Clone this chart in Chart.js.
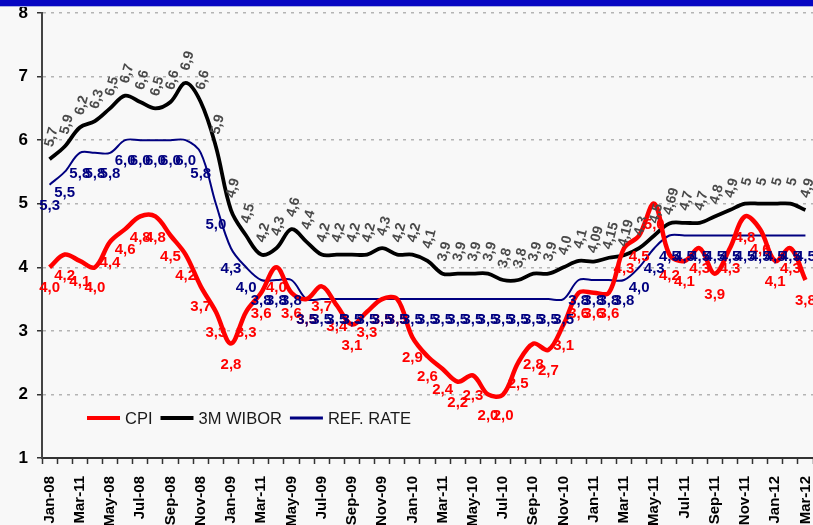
<!DOCTYPE html>
<html>
<head>
<meta charset="utf-8">
<script src="https://cdn.jsdelivr.net/npm/chart.js@4.4.1/dist/chart.umd.min.js"></script>
<style>
  html, body { margin: 0; padding: 0; background: #f8f8f8; }
  #wrap { position: relative; width: 813px; height: 525px; overflow: hidden; background: #f8f8f8; }
  #topbar { position: absolute; left: 0; top: 0; width: 813px; height: 6px; background: #0606c2; border-bottom: 1px solid #aab0e4; z-index: 2; }
  canvas { position: absolute; left: 0; top: 0; }
</style>
</head>
<body>
<div id="wrap">
  <div id="topbar"></div>
  <canvas id="chart" width="813" height="525"></canvas>
</div>
<script>
// Monthly categories, Jan-08 .. Mar-12 (every other one is printed on the axis)
const months = [
  'Jan-08','Feb-08','Mar-11','Apr-08','May-08','Jun-08','Jul-08','Aug-08','Sep-08','Oct-08','Nov-08','Dec-08',
  'Jan-09','Feb-09','Mar-11','Apr-09','May-09','Jun-09','Jul-09','Aug-09','Sep-09','Oct-09','Nov-09','Dec-09',
  'Jan-10','Feb-10','Mar-11','Apr-10','May-10','Jun-10','Jul-10','Aug-10','Sep-10','Oct-10','Nov-10','Dec-10',
  'Jan-11','Feb-11','Mar-11','Apr-11','May-11','Jun-11','Jul-11','Aug-11','Sep-11','Oct-11','Nov-11','Dec-11',
  'Jan-12','Feb-12','Mar-12'
];

// CPI, y/y %
const cpi = [
  4.0, 4.2, 4.1, 4.0, 4.4, 4.6, 4.8, 4.8, 4.5, 4.2, 3.7, 3.3,
  2.8, 3.3, 3.6, 4.0, 3.6, 3.5, 3.7, 3.4, 3.1, 3.3, 3.5, 3.5,
  2.9, 2.6, 2.4, 2.2, 2.3, 2.0, 2.0, 2.5, 2.8, 2.7, 3.1, 3.6,
  3.6, 3.6, 4.3, 4.5, 5.0, 4.2, 4.1, 4.3, 3.9, 4.3, 4.8, 4.6,
  4.1, 4.3, 3.8
];

// 3M WIBOR, %
const wibor = [
  5.7, 5.9, 6.2, 6.3, 6.5, 6.7, 6.6, 6.5, 6.6, 6.9, 6.6, 5.9,
  4.9, 4.5, 4.2, 4.3, 4.6, 4.4, 4.2, 4.2, 4.2, 4.2, 4.3, 4.2,
  4.2, 4.1, 3.9, 3.9, 3.9, 3.9, 3.8, 3.8, 3.9, 3.9, 4.0, 4.1,
  4.09, 4.15, 4.19, 4.3, 4.5, 4.69, 4.7, 4.7, 4.8, 4.9, 5, 5,
  5, 5, 4.9
];

// NBP reference rate, %
const refRate = [
  5.3, 5.5, 5.8, 5.8, 5.8, 6.0, 6.0, 6.0, 6.0, 6.0, 5.8, 5.0,
  4.3, 4.0, 3.8, 3.8, 3.8, 3.5, 3.5, 3.5, 3.5, 3.5, 3.5, 3.5,
  3.5, 3.5, 3.5, 3.5, 3.5, 3.5, 3.5, 3.5, 3.5, 3.5, 3.5, 3.8,
  3.8, 3.8, 3.8, 4.0, 4.3, 4.5, 4.5, 4.5, 4.5, 4.5, 4.5, 4.5,
  4.5, 4.5, 4.5
];

const seriesNames = ['CPI', '3M WIBOR', 'REF. RATE'];
const yMin = 1, yMax = 8;

const FONT = '"Liberation Sans", Arial, sans-serif';

const oneDecimal = v => v.toFixed(1).replace('.', ',');
const asEntered = v => {
  const tenths = Math.abs(v * 10 - Math.round(v * 10)) < 1e-9;
  const s = (Number.isInteger(v) && v >= 5) ? String(v) : (tenths ? v.toFixed(1) : String(v));
  return s.replace('.', ',');
};

// Value labels for each series: offset from the point, rotation, font, colour
const labelStyles = {
  0: { dx: 0, dy: 21, rot: 0, font: 'bold 15px ' + FONT, color: '#ff0000', fmt: oneDecimal },
  1: { dx: 2, dy: -22, rot: -75 * Math.PI / 180, font: 'bold 14px ' + FONT, color: '#4a4a4a', fmt: asEntered },
  2: { dx: 0, dy: 21, rot: 0, font: 'bold 15px ' + FONT, color: '#000080', fmt: oneDecimal }
};

const valueLabels = {
  id: 'valueLabels',
  afterDatasetsDraw(chart) {
    const ctx = chart.ctx;
    [1, 0, 2].forEach(di => {
      const st = labelStyles[di];
      const ds = chart.data.datasets[di];
      const meta = chart.getDatasetMeta(di);
      ctx.save();
      ctx.font = st.font;
      ctx.fillStyle = st.color;
      ctx.textAlign = 'center';
      ctx.textBaseline = 'middle';
      meta.data.forEach((pt, i) => {
        ctx.save();
        ctx.translate(pt.x + st.dx, pt.y + st.dy);
        if (st.rot) ctx.rotate(st.rot);
        ctx.fillText(st.fmt(ds.data[i]), 0, 0);
        ctx.restore();
      });
      ctx.restore();
    });
  }
};

// Legend drawn inside the plot, lower left
const insideLegend = {
  id: 'insideLegend',
  afterDraw(chart) {
    const ctx = chart.ctx;
    const area = chart.chartArea;
    let x = area.left + 45;
    const y = area.bottom - 40;
    ctx.save();
    ctx.font = '16.5px ' + FONT;
    ctx.textBaseline = 'middle';
    ctx.textAlign = 'left';
    chart.data.datasets.forEach(ds => {
      ctx.strokeStyle = ds.borderColor;
      ctx.lineWidth = ds.legendWidth;
      ctx.beginPath();
      ctx.moveTo(x, y);
      ctx.lineTo(x + 33, y);
      ctx.stroke();
      x += 38;
      ctx.fillStyle = '#1a1a1a';
      ctx.fillText(ds.label, x, y + 1);
      x += ctx.measureText(ds.label).width + 8;
    });
    ctx.restore();
  }
};

new Chart(document.getElementById('chart'), {
  type: 'line',
  data: {
    labels: months,
    datasets: [
      { label: seriesNames[0], data: cpi, borderColor: '#ff0000', borderWidth: 4.5, legendWidth: 4, tension: 0.35, pointRadius: 0, order: 0 },
      { label: seriesNames[1], data: wibor, borderColor: '#000000', borderWidth: 3.8, legendWidth: 4, tension: 0.35, pointRadius: 0, order: 2 },
      { label: seriesNames[2], data: refRate, borderColor: '#000080', borderWidth: 2, legendWidth: 3, tension: 0.35, pointRadius: 0, order: 1 }
    ]
  },
  options: {
    responsive: false,
    animation: false,
    devicePixelRatio: 1,
    layout: { padding: { top: 13, left: 0, right: 0, bottom: 0 } },
    plugins: { legend: { display: false }, tooltip: { enabled: false } },
    scales: {
      x: {
        type: 'category',
        offset: true,
        grid: { offset: true, drawOnChartArea: false, drawTicks: true, tickLength: 6, tickColor: '#333333', tickWidth: 1.5 },
        border: { display: true, color: '#333333', width: 2 },
        ticks: {
          autoSkip: false, minRotation: 90, maxRotation: 90, padding: 12,
          color: '#000000', font: { family: FONT, size: 15, weight: 'bold' },
          callback: (v, i) => (i % 2 === 0 ? months[i] : '')
        },
        afterFit: s => { s.height = 67; s.paddingLeft = 0; s.paddingRight = 0; s.paddingTop = 0; s.paddingBottom = 0; }
      },
      y: {
        min: yMin, max: yMax,
        grid: { color: '#b4b4b4', lineWidth: 1.5, tickColor: '#333333', tickLength: 5, tickWidth: 1.5 },
        border: { display: true, color: '#444444', width: 2, dash: [3, 5] },
        ticks: { stepSize: 1, padding: 9, color: '#000000', font: { family: FONT, size: 17, weight: 'bold' } },
        afterFit: s => { s.width = 42; s.paddingTop = 0; s.paddingBottom = 0; }
      }
    }
  },
  plugins: [valueLabels, insideLegend]
});
</script>
</body>
</html>
